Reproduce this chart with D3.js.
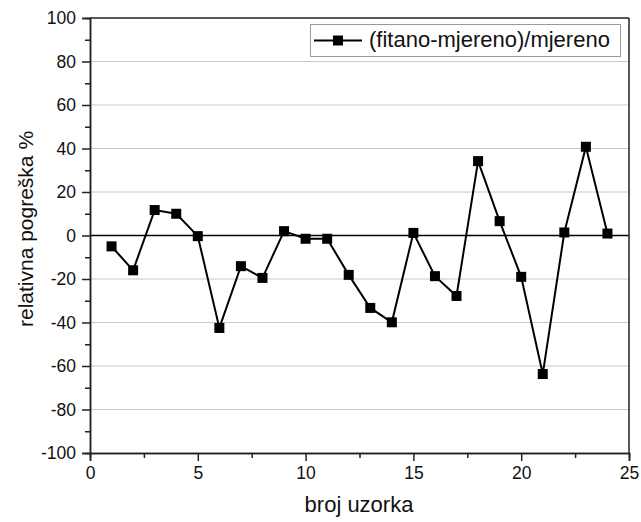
<!DOCTYPE html>
<html><head><meta charset="utf-8">
<script src="https://cdn.jsdelivr.net/npm/d3@7"></script>
<style>body{margin:0;background:#fff;}svg{display:block;font-family:"Liberation Sans",Arial,sans-serif;}</style>
</head><body>
<svg id="c" width="641" height="522"></svg>
<script>
const samples = [1,2,3,4,5,6,7,8,9,10,11,12,13,14,15,16,17,18,19,20,21,22,23,24];
const relErr = [-5,-16,11.7,10,-0.3,-42.5,-14.1,-19.5,2,-1.5,-1.5,-18.1,-33.3,-39.9,1.2,-18.7,-27.8,34.2,6.6,-19,-63.7,1.4,40.8,0.9];
const xTicks = [0,5,10,15,20,25];
const yTicks = [-100,-80,-60,-40,-20,0,20,40,60,80,100];
const seriesName = "(fitano-mjereno)/mjereno";
const xTitle = "broj uzorka";
const yTitle = "relativna pogreška %";

const svg = d3.select("#c");
const L=90, R=629, T=18, B=453;
const x = d3.scaleLinear().domain([0,25]).range([L,R]);
const y = d3.scaleLinear().domain([-100,100]).range([B,T]);
const fmt = d => String(d);

// gridlines
svg.append("g").selectAll("line").data(yTicks.filter(v=>v!==0&&v!==100&&v!==-100)).join("line")
  .attr("x1",L).attr("x2",R).attr("y1",d=>y(d)).attr("y2",d=>y(d))
  .attr("stroke","#c8c8c8").attr("stroke-width",1);
// zero line
svg.append("line").attr("x1",L).attr("x2",R).attr("y1",y(0)).attr("y2",y(0)).attr("stroke","#000").attr("stroke-width",1.5);

// frame top/right
svg.append("line").attr("x1",L).attr("x2",R).attr("y1",T).attr("y2",T).attr("stroke","#222").attr("stroke-width",1.5);
svg.append("line").attr("x1",R).attr("x2",R).attr("y1",T).attr("y2",B).attr("stroke","#222").attr("stroke-width",1.5);

// axes
const xAx = svg.append("g").attr("transform",`translate(0,${B})`)
  .call(d3.axisBottom(x).tickValues(xTicks).tickSize(8).tickPadding(6).tickFormat(fmt));
const xMinor = svg.append("g").attr("transform",`translate(0,${B})`)
  .call(d3.axisBottom(x).tickValues([2.5,7.5,12.5,17.5,22.5]).tickSize(5).tickFormat(""));
const yAx = svg.append("g").attr("transform",`translate(${L},0)`)
  .call(d3.axisLeft(y).tickValues(yTicks).tickSize(8).tickPadding(6).tickFormat(fmt));
const yMinor = svg.append("g").attr("transform",`translate(${L},0)`)
  .call(d3.axisLeft(y).tickValues(d3.range(-90,100,20)).tickSize(5).tickFormat(""));
[xAx,xMinor,yAx,yMinor].forEach(g=>{
  g.select(".domain").attr("stroke","#222").attr("stroke-width",1.5);
  g.selectAll(".tick line").attr("stroke","#222").attr("stroke-width",1.5);
  g.selectAll("text").attr("font-size",17.5).attr("fill","#111").attr("font-family","'Liberation Sans',Arial,sans-serif");
});

// line + markers
const line = d3.line().x((d,i)=>x(samples[i])).y(d=>y(d));
svg.append("path").datum(relErr).attr("d",line).attr("fill","none").attr("stroke","#000").attr("stroke-width",2);
const ms=10;
svg.append("g").selectAll("rect").data(relErr).join("rect")
  .attr("x",(d,i)=>x(samples[i])-ms/2).attr("y",d=>y(d)-ms/2).attr("width",ms).attr("height",ms).attr("fill","#000");

// legend
const lg = svg.append("g");
lg.append("rect").attr("x",310.5).attr("y",24.5).attr("width",310).attr("height",32).attr("fill","#fff").attr("stroke","#999").attr("stroke-width",1);
lg.append("line").attr("x1",314).attr("x2",362).attr("y1",40.5).attr("y2",40.5).attr("stroke","#000").attr("stroke-width",2);
lg.append("rect").attr("x",333).attr("y",35.5).attr("width",10).attr("height",10).attr("fill","#000");
lg.append("text").attr("x",369).attr("y",47).attr("font-size",22).attr("fill","#111").text(seriesName);

// titles
svg.append("text").attr("x",359).attr("y",512).attr("text-anchor","middle").attr("font-size",22).attr("fill","#111").text(xTitle);
svg.append("text").attr("transform",`translate(33,229) rotate(-90)`).attr("text-anchor","middle").attr("font-size",21).attr("fill","#111").text(yTitle);
</script>
</body></html>
